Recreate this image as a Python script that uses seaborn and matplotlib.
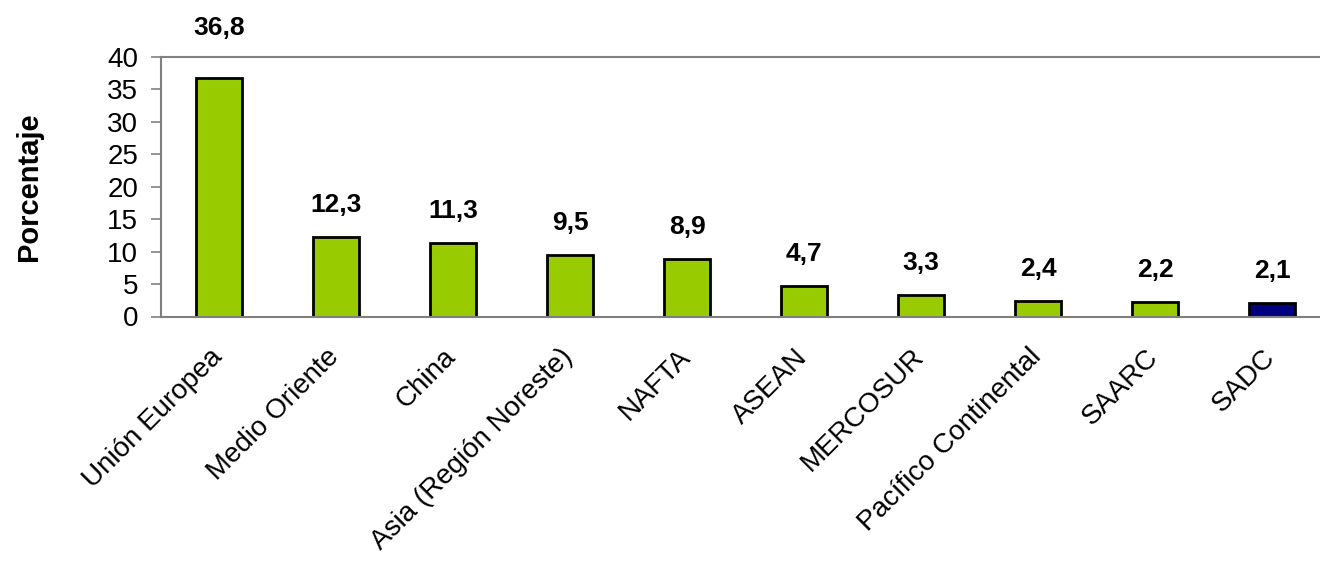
import matplotlib
matplotlib.use("Agg")
import matplotlib.pyplot as plt
import matplotlib.transforms as mtransforms
import seaborn as sns
import pandas as pd
from matplotlib.ticker import FixedLocator

categories = ["Unión Europea", "Medio Oriente", "China", "Asia (Región Noreste)",
              "NAFTA", "ASEAN", "MERCOSUR", "Pacífico Continental", "SAARC", "SADC"]
values = [36.8, 12.3, 11.3, 9.5, 8.9, 4.7, 3.3, 2.4, 2.2, 2.1]
value_labels = ["36,8", "12,3", "11,3", "9,5", "8,9", "4,7", "3,3", "2,4", "2,2", "2,1"]
yticks = [0, 5, 10, 15, 20, 25, 30, 35, 40]
ylabel = "Porcentaje"

green = "#99CC00"
navy = "#000080"
bar_colors = [green] * 9 + [navy]

sns.set_theme(style="white")
plt.rcParams["font.family"] = ["Liberation Sans", "DejaVu Sans"]

fig = plt.figure(figsize=(13.2, 5.67), dpi=100)
ax = fig.add_axes([160.5 / 1320, (567 - 316.5) / 567, 1170 / 1320, (316.5 - 57) / 567])

df = pd.DataFrame({"cat": categories, "val": values})
sns.barplot(data=df, x="cat", y="val", hue="cat", palette=bar_colors, legend=False,
            width=0.39, edgecolor="black", linewidth=2, saturation=1, ax=ax)

ax.set_xlim(-0.5, len(categories) - 0.5)
ax.set_ylim(0, 40)
ax.set_yticks(yticks)
ax.set_yticklabels([str(t) for t in yticks], fontsize=20, color="black")
ax.set_xticks(range(len(categories)))
ax.set_xticklabels(categories, rotation=45, ha="right", va="top",
                   rotation_mode="anchor", fontsize=20, color="black")
ax.tick_params(axis="x", which="major", length=0, pad=14)
shift = mtransforms.ScaledTranslation(-10 / 100, -8 / 100, fig.dpi_scale_trans)
for lbl in ax.get_xticklabels():
    lbl.set_transform(lbl.get_transform() + shift)
ax.xaxis.set_minor_locator(FixedLocator([i - 0.5 for i in range(len(categories) + 1)]))
ax.tick_params(axis="x", which="minor", length=7, width=1.2, color="#808080", direction="out")
ax.tick_params(axis="y", which="major", length=7, width=1.2, color="#808080",
               direction="out", left=True, pad=9)
ax.set_xlabel("")
ax.set_ylabel(ylabel, fontsize=21, fontweight="bold", labelpad=46, color="black")

for side in ["left", "bottom", "top"]:
    ax.spines[side].set_visible(True)
    ax.spines[side].set_color("#808080")
    ax.spines[side].set_linewidth(1.5)
ax.spines["right"].set_visible(False)

for i, (v, lab) in enumerate(zip(values, value_labels)):
    extra = 18 if i == 0 else 0
    ax.annotate(lab, xy=(i, v), xytext=(0, (25 + extra) * 0.72), textcoords="offset points",
                ha="center", va="baseline", fontsize=19, fontweight="bold",
                color="black", annotation_clip=False)

fig.savefig("out.png", dpi=100)
